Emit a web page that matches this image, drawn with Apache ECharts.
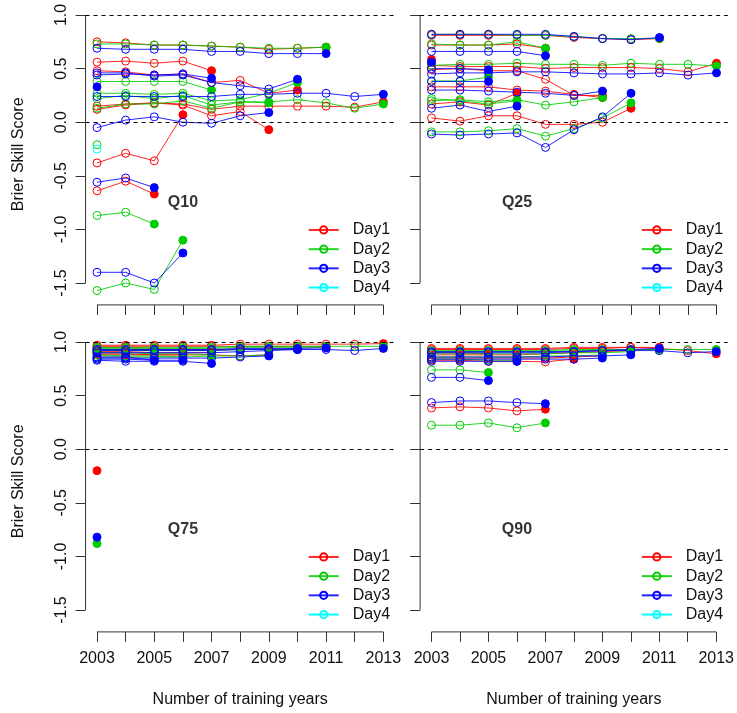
<!DOCTYPE html>
<html><head><meta charset="utf-8">
<script src="https://cdn.jsdelivr.net/npm/echarts@6/dist/echarts.min.js"></script>
<style>html,body{margin:0;padding:0;background:#fff}#c{width:737px;height:713px}</style>
</head><body><div id="c"></div>
<script>
// ---------- data ----------
const years = [2003,2004,2005,2006,2007,2008,2009,2010,2011,2012,2013];
const xLabelYears = [2003,2005,2007,2009,2011,2013];
const yTicks = [-1.5,-1.0,-0.5,0.0,0.5,1.0];
const yLim = [-1.6, 1.0];
const refLines = [0, 1];
const dayNames = ['Day1','Day2','Day3','Day4'];
const dayColors = ['#FF0000','#00CD00','#0000FF','#00FFFF'];
const panelNames = ['Q10','Q25','Q75','Q90'];
const panelLabelPos = [2006, -0.75];

// each inner list = one line, values from 2003 onward; last point is drawn filled
const q10Day1 = [
  [0.75,0.74,0.72,0.72,0.71,0.70,0.68,0.69,0.70],
  [0.56,0.57,0.55,0.57,0.48],
  [0.48,0.47,0.44,0.45,0.37,0.39,0.27,0.30],
  [0.15,0.17,0.18,0.16,0.06,0.10,-0.07],
  [0.12,0.16,0.18,0.17,0.12,0.15,0.15,0.15,0.15,0.14,0.19],
  [-0.38,-0.29,-0.36,0.07],
  [-0.64,-0.55,-0.67]
];
const q10Day2 = [
  [0.73,0.73,0.72,0.72,0.71,0.70,0.69,0.69,0.70],
  [0.38,0.38,0.38,0.38,0.30],
  [0.27,0.27,0.26,0.27,0.20,0.21,0.27,0.37],
  [0.22,0.25,0.22,0.25,0.16,0.19,0.18],
  [0.13,0.17,0.17,0.20,0.13,0.19,0.19,0.21,0.18,0.13,0.17],
  [-1.57,-1.50,-1.56,-1.10],
  [-0.87,-0.84,-0.95]
];
const q10Day3 = [
  [0.69,0.68,0.68,0.68,0.66,0.66,0.64,0.64,0.64],
  [0.44,0.45,0.44,0.45,0.41],
  [0.46,0.46,0.43,0.44,0.37,0.34,0.31,0.40],
  [-0.05,0.02,0.05,0.00,-0.01,0.06,0.09],
  [0.24,0.24,0.24,0.24,0.24,0.26,0.26,0.27,0.27,0.24,0.26],
  [-1.40,-1.40,-1.50,-1.22],
  [-0.56,-0.52,-0.61],
  [0.33]
];
const q10Day4 = [];
const q10Open = [[2,-0.21],[4,-0.25]];   // [day, value] single open circles at 2003

const q25Day1 = [
  [0.81,0.81,0.81,0.81,0.81,0.79,0.78,0.77,0.78],
  [0.72,0.72,0.72,0.73,0.69],
  [0.53,0.52,0.52,0.52,0.50,0.51,0.51,0.51,0.50,0.47,0.55],
  [0.49,0.50,0.48,0.48,0.40,0.25,0.25],
  [0.33,0.33,0.33,0.30,0.29,0.26,0.23],
  [0.17,0.19,0.16,0.27],
  [0.04,0.01,0.06,0.06,-0.02,-0.02,0.00,0.13],
  [0.585]
];
const q25Day2 = [
  [0.82,0.82,0.82,0.81,0.81,0.80,0.78,0.78,0.78],
  [0.73,0.72,0.72,0.75,0.69],
  [0.53,0.54,0.54,0.55,0.54,0.54,0.53,0.55,0.54,0.54,0.525],
  [0.385,0.385,0.42],
  [0.20,0.21,0.19,0.21,0.16,0.19,0.23],
  [0.22,0.20,0.17,0.20],
  [-0.09,-0.09,-0.08,-0.06,-0.13,-0.06,0.04,0.18]
];
const q25Day3 = [
  [0.82,0.82,0.82,0.82,0.82,0.80,0.78,0.77,0.79],
  [0.66,0.66,0.66,0.66,0.62],
  [0.45,0.46,0.46,0.47,0.47,0.46,0.45,0.45,0.46,0.44,0.46],
  [0.38,0.38,0.38],
  [0.30,0.30,0.29,0.28,0.27,0.25,0.29],
  [0.13,0.16,0.10,0.15],
  [-0.11,-0.12,-0.11,-0.10,-0.235,-0.07,0.05,0.27],
  [0.50,0.50,0.49],
  [0.56]
];
const q25Day4 = [];
const q25Open = [];

const q75Day1 = [
  [0.97,0.97,0.97,0.97,0.97,0.98,0.98,0.98,0.98,0.98,0.985],
  [0.96,0.96,0.96,0.96,0.96,0.96,0.96,0.96,0.96],
  [0.93,0.93,0.93,0.93,0.93,0.93,0.93,0.94],
  [0.88,0.88,0.88,0.88,0.88,0.87,0.88],
  [0.91,0.91,0.90,0.90,0.90],
  [0.89,0.89,0.88,0.88],
  [0.95,0.95,0.94],
  [-0.20]
];
const q75Day2 = [
  [0.95,0.95,0.95,0.95,0.95,0.96,0.96,0.96,0.96,0.96,0.96],
  [0.94,0.94,0.94,0.94,0.94,0.95,0.95,0.95,0.95],
  [0.92,0.92,0.92,0.92,0.92,0.93,0.93,0.93],
  [0.86,0.86,0.86,0.86,0.87,0.87,0.88],
  [0.90,0.90,0.89,0.89,0.88],
  [0.88,0.87,0.87,0.86],
  [0.93,0.93,0.92],
  [-0.88]
];
const q75Day3 = [
  [0.93,0.93,0.93,0.93,0.93,0.94,0.94,0.93,0.93,0.92,0.94],
  [0.92,0.92,0.92,0.92,0.92,0.93,0.93,0.94,0.945],
  [0.90,0.90,0.90,0.90,0.90,0.91,0.92,0.93],
  [0.85,0.85,0.85,0.85,0.85,0.86,0.87],
  [0.83,0.82,0.82,0.82,0.80],
  [0.84,0.84,0.83,0.83],
  [0.86,0.86,0.83],
  [-0.82]
];
const q75Day4 = [];
const q75Open = [];

const q90Day1 = [
  [0.94,0.94,0.94,0.94,0.94,0.95,0.95,0.95,0.94,0.92,0.89],
  [0.93,0.93,0.93,0.93,0.93,0.94,0.94,0.95,0.95],
  [0.88,0.88,0.88,0.88,0.89,0.90,0.91,0.92],
  [0.85,0.85,0.85,0.85,0.85,0.86,0.87],
  [0.385,0.395,0.385,0.357,0.373],
  [0.83,0.83,0.82,0.82,0.815,0.84],
  [0.90,0.90,0.89]
];
const q90Day2 = [
  [0.92,0.92,0.92,0.92,0.92,0.93,0.93,0.93,0.93,0.93,0.93],
  [0.91,0.91,0.91,0.91,0.91,0.92,0.92,0.93,0.93],
  [0.89,0.89,0.89,0.89,0.89,0.90,0.90,0.91],
  [0.86,0.86,0.86,0.86,0.87,0.87,0.88],
  [0.224,0.224,0.245,0.20,0.245],
  [0.74,0.74,0.715],
  [0.84,0.84,0.83,0.83]
];
const q90Day3 = [
  [0.91,0.91,0.91,0.91,0.91,0.91,0.92,0.92,0.92,0.90,0.91],
  [0.90,0.90,0.90,0.90,0.90,0.91,0.92,0.93,0.94],
  [0.86,0.86,0.86,0.86,0.86,0.87,0.87,0.88],
  [0.84,0.84,0.84,0.84,0.84,0.84,0.85],
  [0.435,0.45,0.45,0.435,0.425],
  [0.67,0.67,0.64],
  [0.82,0.82,0.82,0.82]
];
const q90Day4 = [];
const q90Open = [];

const panelData = [
  [q10Day1,q10Day2,q10Day3,q10Day4],
  [q25Day1,q25Day2,q25Day3,q25Day4],
  [q75Day1,q75Day2,q75Day3,q75Day4],
  [q90Day1,q90Day2,q90Day3,q90Day4]
];
const panelOpen = [q10Open,q25Open,q75Open,q90Open];

// ---------- layout ----------
const FONT = "'Liberation Sans', Arial, sans-serif";
const FS = 16;
const AX = '#333';
const gridBoxes = [
  {left:85.55, top:3.85, width:309.25, height:301.05},
  {left:420.1, top:3.85, width:307.8, height:301.05},
  {left:85.55, top:330.85, width:309.25, height:301.05},
  {left:420.1, top:330.85, width:307.8, height:301.05}
];
const xSpan = years[years.length-1]-years[0];
const xLo = years[0]-0.04*xSpan, xHi = years[years.length-1]+0.04*xSpan;
const ySpan = yLim[1]-yLim[0];
const yLo = yLim[0]-0.04*ySpan, yHi = yLim[1]+0.04*ySpan;

const grid=[], xAxis=[], yAxis=[], series=[], legend=[];
gridBoxes.forEach((g,i)=>{
  const isLeft = (i%2===0), isBottom = (i>=2);
  grid.push(Object.assign({containLabel:false}, g));
  xAxis.push({
    gridIndex:i, type:'value', min:xLo, max:xHi, position:'bottom',
    axisLine:{show:true, onZero:false, lineStyle:{color:'rgba(0,0,0,0)'}}, splitLine:{show:false},
    axisTick:{show:true, customValues:years, length:10, lineStyle:{color:AX,width:1}},
    axisLabel:{show:isBottom, customValues:xLabelYears, margin:19, fontSize:FS, color:'#111', fontFamily:FONT,
      formatter:v=>String(Math.round(v))},
    name:isBottom?'Number of training years':'', nameLocation:'middle', nameGap:60,
    nameTextStyle:{fontSize:FS, color:'#111', fontFamily:FONT}
  });
  yAxis.push({
    gridIndex:i, type:'value', min:yLo, max:yHi, position:'left',
    axisLine:{show:true, onZero:false, lineStyle:{color:'rgba(0,0,0,0)'}}, splitLine:{show:false},
    axisTick:{show:true, customValues:yTicks, length:10, lineStyle:{color:AX,width:1}},
    axisLabel:{show:isLeft, customValues:yTicks, rotate:90, margin:16, fontSize:FS, color:'#111', fontFamily:FONT,
      formatter:v=>Number(v).toFixed(1)},
    name:isLeft?'Brier Skill Score':'', nameLocation:'middle', nameGap:59,
    nameTextStyle:{fontSize:FS, color:'#111', fontFamily:FONT}
  });
  // axis lines spanning the tick range + dashed reference lines
  series.push({type:'line', xAxisIndex:i, yAxisIndex:i, silent:true, clip:false, symbol:'none',
    data:[[xLo,yTicks[0]],[xLo,yTicks[yTicks.length-1]]], lineStyle:{color:AX,width:1},
    markLine:{silent:true, symbol:'none', label:{show:false}, animation:false,
      lineStyle:{type:[4,4], color:'#000', width:1},
      data:refLines.map(v=>({yAxis:v}))}
  });
  series.push({type:'line', xAxisIndex:i, yAxisIndex:i, silent:true, clip:false, symbol:'none',
    data:[[years[0],yLo],[years[years.length-1],yLo]], lineStyle:{color:AX,width:1}});
  // data lines
  panelData[i].forEach((lines,d)=>{
    const col = dayColors[d];
    lines.forEach(line=>{
      series.push({
        type:'line', name:dayNames[d], xAxisIndex:i, yAxisIndex:i, silent:true, clip:false,
        symbol:'circle', symbolSize:8, showAllSymbol:true,
        itemStyle:{color:'rgba(255,255,255,0)', borderColor:col, borderWidth:1},
        lineStyle:{color:col, width:1, opacity:0.85},
        data: line.map((v,k)=> k===line.length-1
          ? {value:[years[k],v], itemStyle:{color:col, borderColor:col}}
          : [years[k],v])
      });
    });
  });
  panelOpen[i].forEach(p=>{
    const col = dayColors[p[0]-1];
    series.push({type:'line', name:dayNames[p[0]-1], xAxisIndex:i, yAxisIndex:i, silent:true, clip:false,
      symbol:'circle', symbolSize:8,
      itemStyle:{color:'rgba(255,255,255,0)', borderColor:col, borderWidth:1},
      lineStyle:{color:col, width:1}, data:[[years[0],p[1]]]});
  });
  // panel label
  series.push({type:'scatter', xAxisIndex:i, yAxisIndex:i, silent:true, symbolSize:0,
    data:[panelLabelPos],
    label:{show:true, position:'inside', formatter:panelNames[i], fontSize:FS, fontWeight:'bold', color:'#000', fontFamily:FONT}});
  legend.push({
    data:dayNames, orient:'vertical', padding:0, selectedMode:false,
    left: g.left + (307.7-85.55) + (isLeft?0:(-1.45)), top: g.top + 216.5,
    itemWidth:30, itemHeight:9, itemGap:0,
    textStyle:{fontSize:FS, color:'#111', fontFamily:FONT, lineHeight:19.2, padding:[0,0,0,9]}
  });
});

const chart = echarts.init(document.getElementById('c'), null, {renderer:'canvas'});
chart.setOption({animation:false, backgroundColor:'#fff', grid, xAxis, yAxis, series, legend});
</script></body></html>
